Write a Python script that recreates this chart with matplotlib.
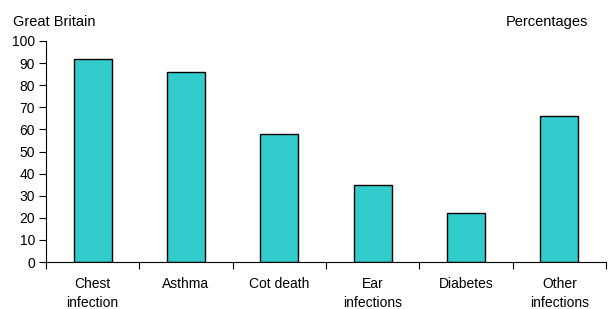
import numpy as np
import matplotlib.pyplot as plt

# Dados do gráfico
categorias = ['Chest\ninfection', 'Asthma', 'Cot death', 'Ear\ninfections',
              'Diabetes', 'Other\ninfections']
percentagens = [92, 86, 58, 35, 22, 66]

plt.rcParams['font.family'] = ['Liberation Sans', 'DejaVu Sans']

fig = plt.figure(figsize=(6.09, 3.09), dpi=100)
ax = fig.add_axes([46 / 609, 1 - 262 / 309, 560 / 609, 221 / 309])

x = np.arange(len(categorias))
ax.bar(x, percentagens, width=0.41, color='#33CCCC', edgecolor='black', linewidth=1)

ax.set_xlim(-0.5, len(categorias) - 0.5)
ax.set_ylim(0, 100)
ax.set_yticks(range(0, 101, 10))
ax.tick_params(axis='y', direction='out', length=5, width=0.8, labelsize=10, pad=3)

# Rótulos nas posições centrais, marcas nas divisões
ax.set_xticks(x)
ax.set_xticklabels(categorias, fontsize=10, linespacing=1.45)
ax.tick_params(axis='x', which='major', length=0, pad=11)
ax.set_xticks(np.arange(-0.5, len(categorias)), minor=True)
ax.tick_params(axis='x', which='minor', direction='out', length=5, width=0.8)

for lado in ['top', 'right']:
    ax.spines[lado].set_visible(False)
for lado in ['left', 'bottom']:
    ax.spines[lado].set_linewidth(0.8)

fig.text(13 / 609, 1 - 22 / 309, 'Great Britain', fontsize=10.5, va='center', ha='left')
fig.text(588 / 609, 1 - 22 / 309, 'Percentages', fontsize=10.5, va='center', ha='right')

fig.savefig('out.png', dpi=100)
